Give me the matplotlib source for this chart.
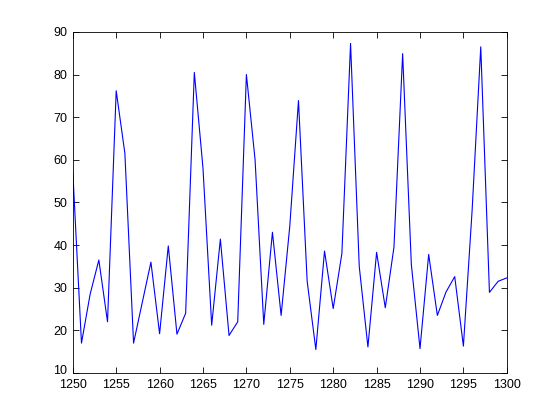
import matplotlib
matplotlib.use("Agg")
import matplotlib.pyplot as plt
from matplotlib.transforms import ScaledTranslation

years = list(range(1250, 1301))
values = [57.2, 17.0, 28.5, 36.5, 22.0, 76.2, 61.5, 17.0, 26.5, 36.0,
          19.2, 39.8, 19.1, 24.0, 80.5, 58.0, 21.2, 41.4, 18.8, 22.0,
          80.0, 60.0, 21.4, 43.0, 23.5, 44.5, 73.9, 31.5, 15.5, 38.6,
          25.1, 38.0, 87.3, 35.0, 16.1, 38.3, 25.3, 39.5, 84.9, 35.5,
          15.7, 37.8, 23.5, 29.0, 32.6, 16.3, 48.0, 86.5, 28.9, 31.5,
          32.3]
xticks = [1250, 1255, 1260, 1265, 1270, 1275, 1280, 1285, 1290, 1295, 1300]
yticks = [10, 20, 30, 40, 50, 60, 70, 80, 90]

plt.rcParams['font.family'] = ['Liberation Sans', 'DejaVu Sans']
fig = plt.figure(figsize=(5.6, 4.2), dpi=100)
fig.patch.set_facecolor('white')
ax = fig.add_axes([0.13, 0.112, 0.775, 0.812])
ax.plot(years, values, color=(0, 0, 1), lw=0.8)
ax.set_xlim(1250, 1300)
ax.set_ylim(10, 90)
ax.set_xticks(xticks)
ax.set_yticks(yticks)
ax.tick_params(direction='in', top=True, right=True, labelsize=9, length=4, width=0.6)
ax.tick_params(axis='x', pad=4)
ax.tick_params(axis='y', pad=4)
for s in ax.spines.values():
    s.set_linewidth(0.6)

fig.canvas.draw()
lbl = ax.get_yticklabels()[0]
lbl.set_transform(lbl.get_transform() + ScaledTranslation(0, 3 / 100, fig.dpi_scale_trans))
lbl.set_va('center_baseline')
fig.savefig('out.png', dpi=100, facecolor='white')
